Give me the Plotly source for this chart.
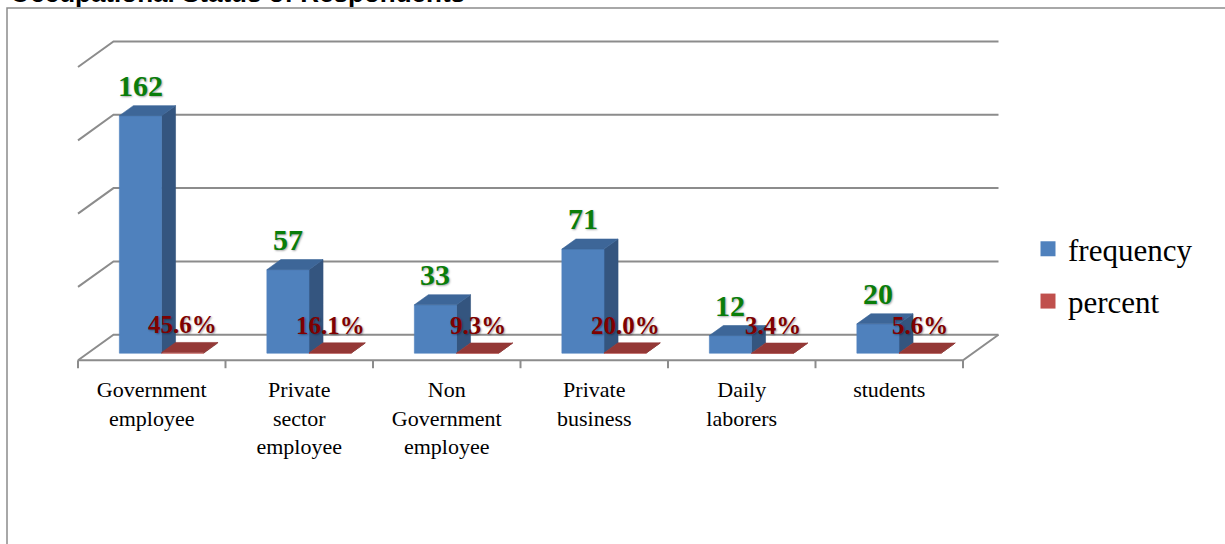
import plotly.graph_objects as go

# ---- data -------------------------------------------------------------
categories = [
    "Government<br>employee",
    "Private<br>sector<br>employee",
    "Non<br>Government<br>employee",
    "Private<br>business",
    "Daily<br>laborers",
    "students",
]
frequency = [162, 57, 33, 71, 12, 20]
percent = [0.456, 0.161, 0.093, 0.200, 0.034, 0.056]
grid_values = [0, 50, 100, 150, 200]
series_names = ["frequency", "percent"]
title_text = "Occupational Status of Respondents"

# ---- page / plot geometry (pixels) -----------------------------------
W, H = 1225, 544
ORIGIN_PX = (78, 360)          # where x=0, y=0 on the front floor edge lands
PX_PER_X = 147.5               # one category slot
PX_PER_Y = 1.465               # one unit of value
PLOT_L, PLOT_R, PLOT_T = 60, 1010, 30
Y_MIN = -6.0

x_range = [(PLOT_L - ORIGIN_PX[0]) / PX_PER_X, (PLOT_R - ORIGIN_PX[0]) / PX_PER_X]
y_max = (ORIGIN_PX[1] - PLOT_T) / PX_PER_Y
plot_b_px = ORIGIN_PX[1] - Y_MIN * PX_PER_Y
margin_b = H - plot_b_px

# oblique depth direction for the pseudo-3D look (in data units)
DX = 35.5 / PX_PER_X
DY = 25.5 / PX_PER_Y
D0, D1 = 0.275, 0.67           # bar depth slab
BAR_W = 1 / 3.5                # gap width 150 %

n = len(categories)


def proj(x, y, d):
    return x + d * DX, y + d * DY


def paper_x(px):
    return (px - PLOT_L) / (PLOT_R - PLOT_L)


def paper_y(py):
    return (plot_b_px - py) / (plot_b_px - PLOT_T)


def path_trace(points, color, width=2):
    xs, ys = [], []
    for seg in points:
        for p in seg:
            x, y = proj(*p)
            xs.append(x)
            ys.append(y)
        xs.append(None)
        ys.append(None)
    return go.Scatter(x=xs, y=ys, mode="lines", line=dict(color=color, width=width),
                      hoverinfo="skip", showlegend=False)


def faces_trace(polys, color):
    xs, ys = [], []
    for poly in polys:
        for p in poly + [poly[0]]:
            x, y = proj(*p)
            xs.append(x)
            ys.append(y)
        xs.append(None)
        ys.append(None)
    return go.Scatter(x=xs, y=ys, mode="lines", fill="toself", fillcolor=color,
                      line=dict(color=color, width=0.6), hoverinfo="skip", showlegend=False)


fig = go.Figure()

GRID = "#8c8c8c"
# back wall + side wall gridlines
grid_segs = [[(0, g, 0), (0, g, 1), (n, g, 1)] for g in grid_values]
fig.add_trace(path_trace(grid_segs, GRID))
# floor front and right edges
fig.add_trace(path_trace([[(0, 0, 0), (n, 0, 0), (n, 0, 1)]], GRID))
# category tick marks
tick_len = 8 / PX_PER_Y
fig.add_trace(path_trace([[(i, 0, 0), (i, -tick_len, 0)] for i in range(n + 1)], GRID))

# bar styles: front, side, top
styles = {
    "frequency": ("#4F81BD", "#34557F", "#3D6698"),
    "percent": ("#C0504D", "#7A302E", "#943836"),
}

for s_idx, (name, values) in enumerate(zip(series_names, [frequency, percent])):
    fronts, sides, tops = [], [], []
    for i, v in enumerate(values):
        x0 = i + 0.5 - BAR_W + s_idx * BAR_W
        x1 = x0 + BAR_W
        fronts.append([(x0, 0, D0), (x1, 0, D0), (x1, v, D0), (x0, v, D0)])
        sides.append([(x1, 0, D0), (x1, v, D0), (x1, v, D1), (x1, 0, D1)])
        tops.append([(x0, v, D0), (x1, v, D0), (x1, v, D1), (x0, v, D1)])
    front_c, side_c, top_c = styles[name]
    fig.add_trace(faces_trace(sides, side_c))
    fig.add_trace(faces_trace(fronts, front_c))
    fig.add_trace(faces_trace(tops, top_c))

# value labels
label_font = "Liberation Serif"
for s_idx, (name, values) in enumerate(zip(series_names, [frequency, percent])):
    for i, v in enumerate(values):
        x0 = i + 0.5 - BAR_W + s_idx * BAR_W
        cx, top_y = proj(x0 + BAR_W / 2, v, D1)
        cx -= (D1 - D0) * DX
        if name == "frequency":
            txt, color, size = f"{v}", "#0A7D0A", 30
        else:
            txt, color, size = f"{v:.1%}", "#7F0000", 25
        fig.add_annotation(
            x=cx, y=top_y, xref="x", yref="y", text=f"<b>{txt}</b>", showarrow=False,
            xanchor="center", yanchor="bottom", yshift=2,
            font=dict(family=label_font, size=size, color=color,
                      shadow="1px 1px 2px rgba(0,0,0,0.35)"),
        )

# legend entries
for name in series_names:
    fig.add_trace(go.Scatter(
        x=[None], y=[None], mode="markers", name=name, legendgroup=name,
        marker=dict(symbol="square", size=15, color=styles[name][0]),
    ))

# title, partly above the page edge
fig.add_annotation(
    x=paper_x(8), y=paper_y(10), xref="paper", yref="paper",
    text=f"<b>{title_text}</b>", showarrow=False, xanchor="left", yanchor="bottom",
    font=dict(family="Liberation Sans", size=26, color="black"),
)

# outer chart frame
fig.add_shape(
    type="rect", xref="paper", yref="paper",
    x0=paper_x(7), x1=paper_x(W + 20), y0=paper_y(8), y1=paper_y(H + 20),
    line=dict(color="#8c8c8c", width=1.5), layer="below",
)

fig.update_layout(
    width=W, height=H,
    margin=dict(l=PLOT_L, r=W - PLOT_R, t=PLOT_T, b=margin_b, pad=0),
    paper_bgcolor="white", plot_bgcolor="rgba(0,0,0,0)",
    xaxis=dict(range=x_range, showgrid=False, zeroline=False, showline=False,
               tickvals=[i + 0.5 for i in range(n)], ticktext=categories, ticks="",
               tickfont=dict(family="Liberation Serif", size=22, color="black"),
               ticklabelstandoff=5, fixedrange=True),
    yaxis=dict(range=[Y_MIN, y_max], showgrid=False, zeroline=False, showline=False,
               showticklabels=False, ticks="", fixedrange=True),
    legend=dict(x=paper_x(1028), y=paper_y(222), xanchor="left", yanchor="top",
                font=dict(family="Liberation Serif", size=31, color="black"),
                tracegroupgap=9, traceorder="grouped", bgcolor="rgba(0,0,0,0)"),
    showlegend=True,
)

fig.write_html("out.html")
